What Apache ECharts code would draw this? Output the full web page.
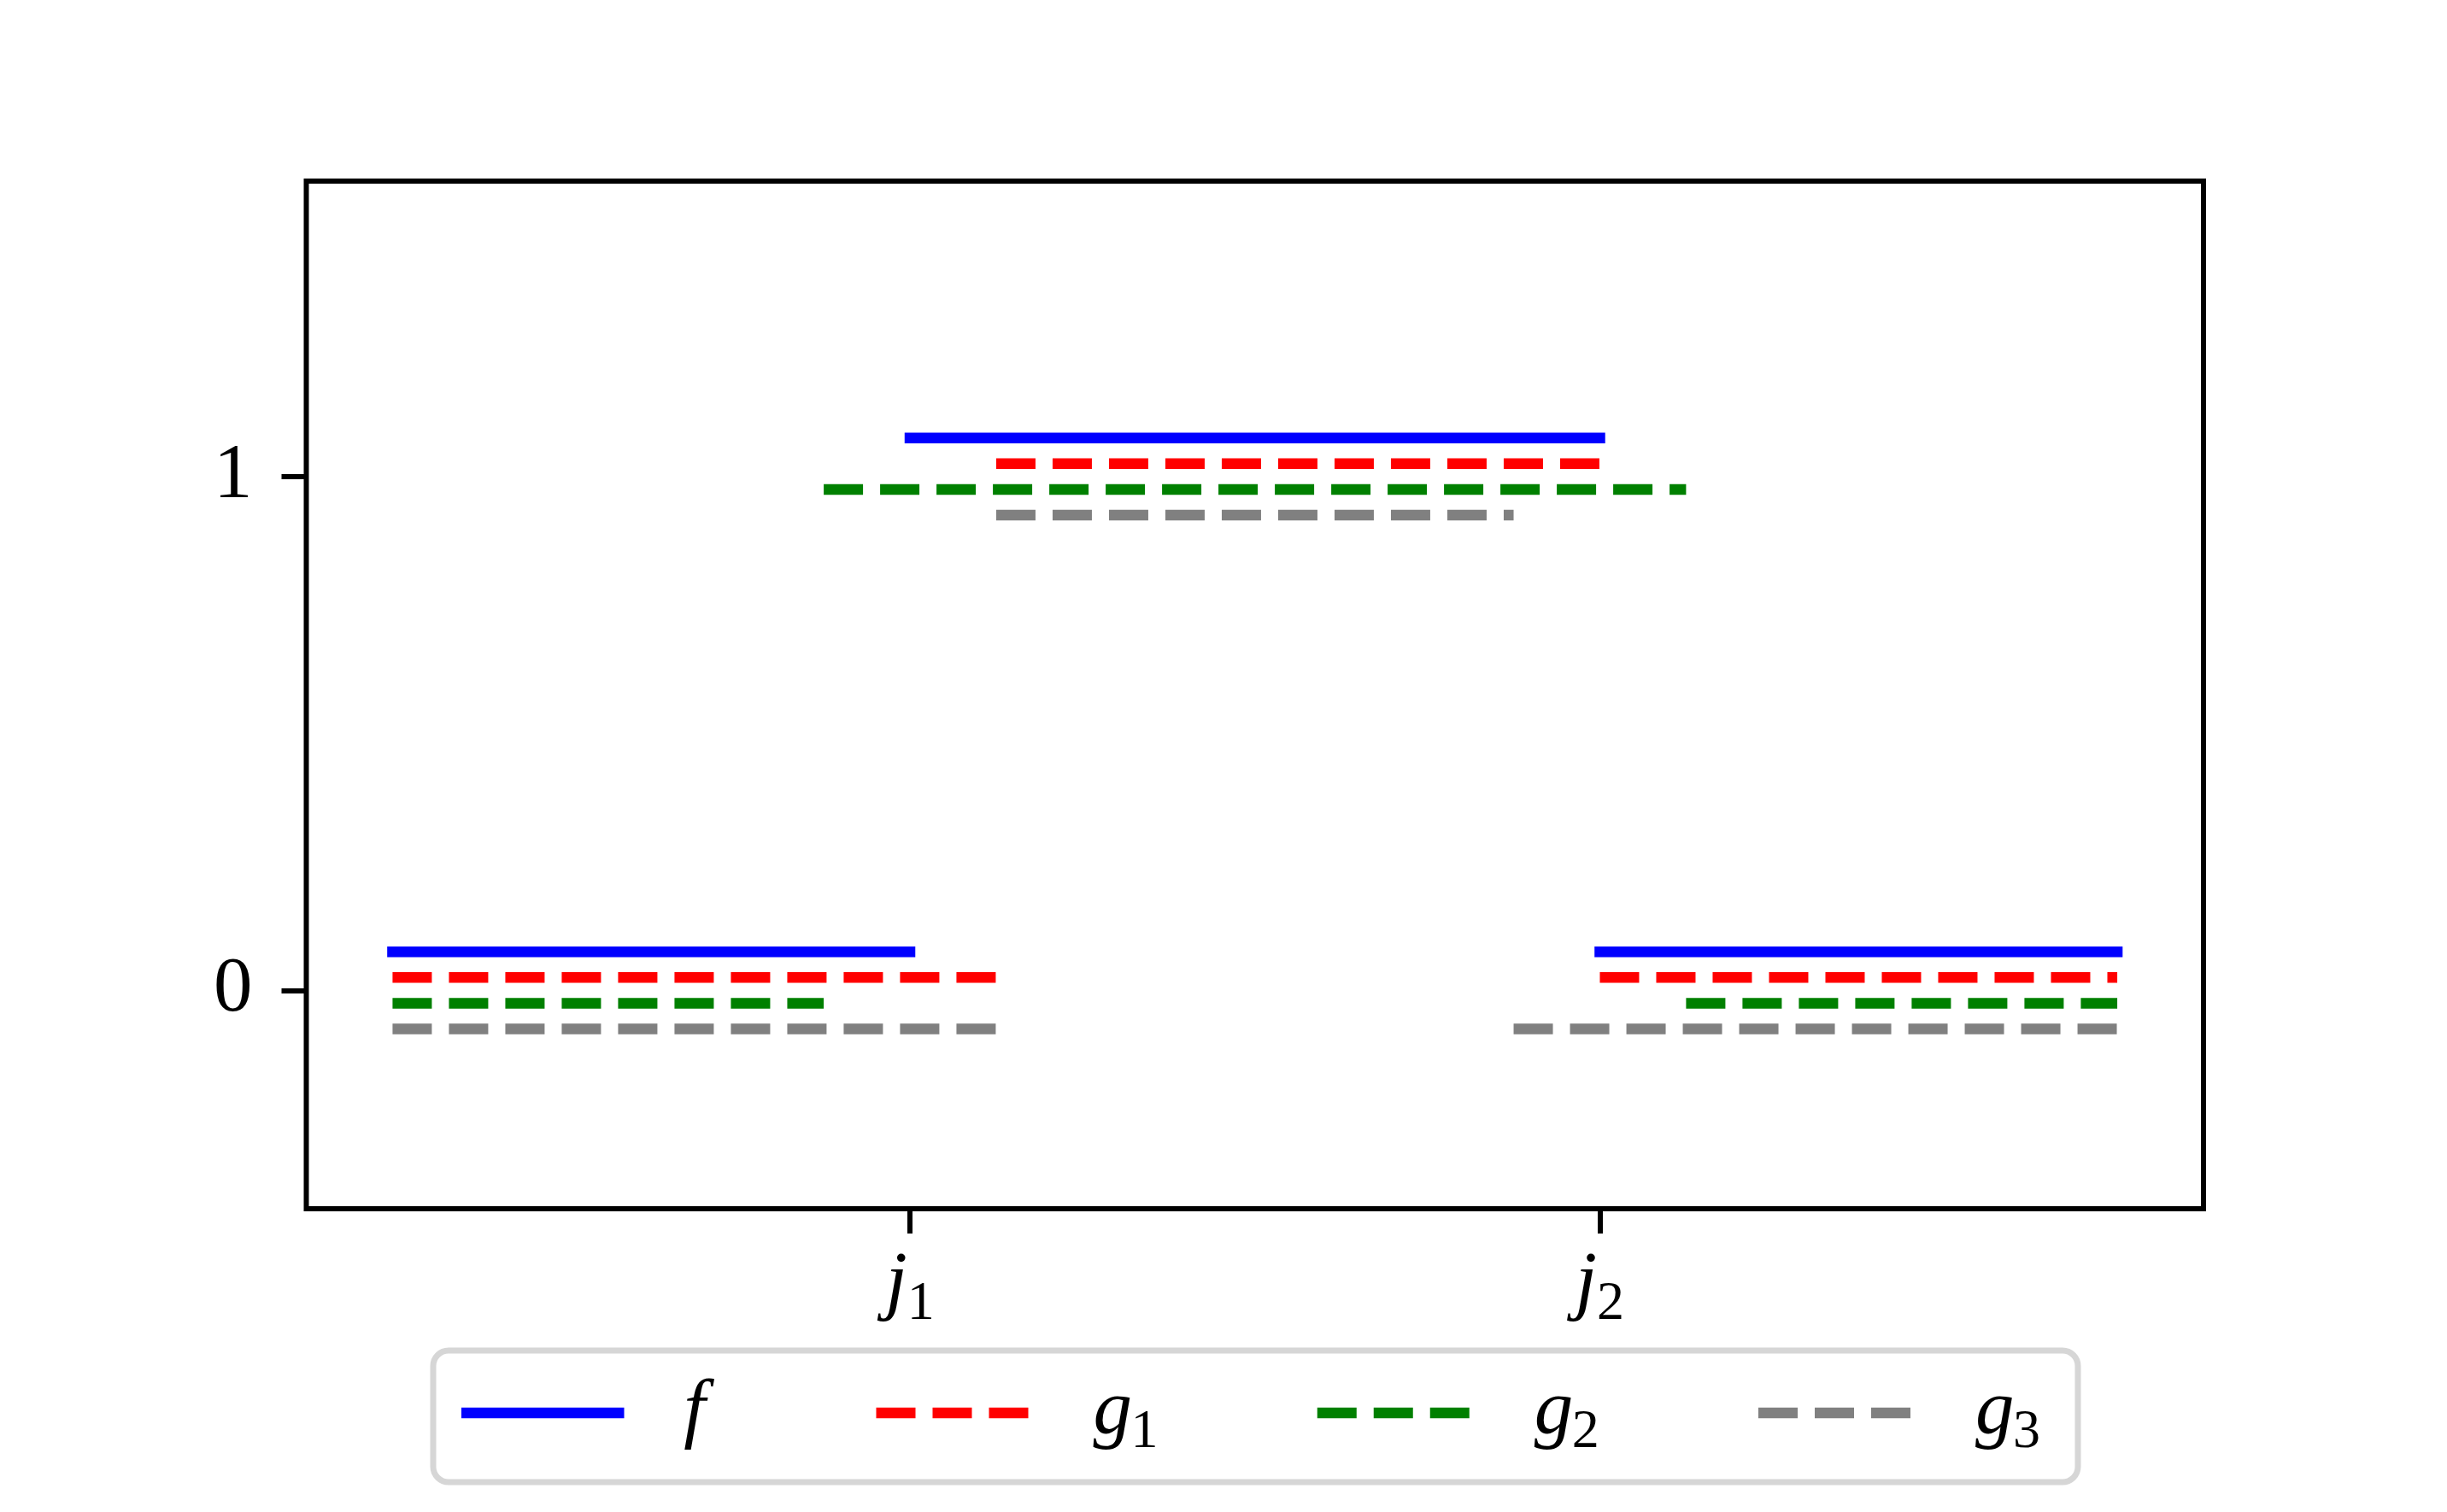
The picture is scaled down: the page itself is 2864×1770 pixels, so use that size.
<!DOCTYPE html>
<html>
<head>
<meta charset="utf-8">
<script src="https://cdn.jsdelivr.net/npm/echarts@6/dist/echarts.min.js"></script>
<style>
html, body { margin: 0; padding: 0; background: #ffffff; }
#chart { width: 2864px; height: 1770px; }
</style>
</head>
<body>
<div id="chart"></div>
<script>
// ---- data ----
const seriesNames = ['f', 'g1', 'g2', 'g3'];
const seriesColors = ['#0000ff', '#ff0000', '#008000', '#808080'];
const seriesDashed = [false, true, true, true];
// each segment: [xStart, xEnd, y]
const fSegments  = [[-0.75, 0, 0.075], [0, 1, 1.075], [1, 1.75, 0.075]];
const g1Segments = [[-0.75, 0.125, 0.025], [0.125, 1, 1.025], [1, 1.75, 0.025]];
const g2Segments = [[-0.75, -0.125, -0.025], [-0.125, 1.125, 0.975], [1.125, 1.75, -0.025]];
const g3Segments = [[-0.75, 0.125, -0.075], [0.125, 0.875, 0.925], [0.875, 1.75, -0.075]];
const allSegments = [fSegments, g1Segments, g2Segments, g3Segments];
const xTickValues = [0, 1];
const xTickMain = ['j', 'j'];
const xTickSub = ['1', '2'];
const yTickValues = [0, 1];
const yTickLabels = ['0', '1'];
const xLimits = [-0.875, 1.875];
const yLimits = [-0.425, 1.575];
const legendMain = ['f', 'g', 'g', 'g'];
const legendSub = ['', '1', '2', '3'];

// ---- styles ----
const FONT = "'Liberation Serif', 'DejaVu Serif', serif";
const LW = 12.5;
const DASH = [46, 20];
const SUBPAD = 46;

const richText = {
  m: { fontFamily: FONT, fontStyle: 'italic', fontSize: 91, lineHeight: 100, color: '#000' },
  s: { fontFamily: FONT, fontSize: 64, lineHeight: 100 - SUBPAD, padding: [SUBPAD, 0, 0, 0], color: '#000' },
  sp: { width: 71, lineHeight: 100 },
  mf: { fontFamily: FONT, fontStyle: 'italic', fontSize: 91, lineHeight: 100, width: 39, color: '#000' },
  mg: { fontFamily: FONT, fontStyle: 'italic', fontSize: 91, lineHeight: 100, width: 44, color: '#000' }
};

const series = [];
allSegments.forEach(function (segs, i) {
  segs.forEach(function (seg) {
    series.push({
      type: 'line',
      name: seriesNames[i],
      data: [[seg[0], seg[2]], [seg[1], seg[2]]],
      symbol: 'none',
      showSymbol: false,
      animation: false,
      silent: true,
      lineStyle: {
        color: seriesColors[i],
        width: LW,
        type: seriesDashed[i] ? DASH : 'solid',
        cap: seriesDashed[i] ? 'butt' : 'square'
      },
      itemStyle: { color: seriesColors[i] },
      z: 3
    });
  });
});

const chart = echarts.init(document.getElementById('chart'), null, { renderer: 'canvas' });
chart.setOption({
  backgroundColor: '#ffffff',
  animation: false,
  grid: {
    show: true,
    left: 358.5, top: 212, width: 2220.5, height: 1203,
    borderColor: '#000000', borderWidth: 6,
    backgroundColor: 'transparent',
    containLabel: false
  },
  xAxis: {
    type: 'value',
    position: 'bottom',
    min: xLimits[0], max: xLimits[1],
    splitLine: { show: false },
    axisLine: { show: false, onZero: false },
    axisTick: { show: true, customValues: xTickValues, length: 29, inside: false,
      lineStyle: { color: '#000', width: 6 } },
    axisLabel: {
      show: true, customValues: xTickValues, margin: 39,
      formatter: function (v) {
        const k = xTickValues.indexOf(v);
        return k < 0 ? '' : '{m|' + xTickMain[k] + '}{s|' + xTickSub[k] + '}';
      },
      rich: richText
    }
  },
  yAxis: {
    type: 'value',
    position: 'left',
    min: yLimits[0], max: yLimits[1],
    splitLine: { show: false },
    axisLine: { show: false, onZero: false },
    axisTick: { show: true, customValues: yTickValues, length: 29, inside: false,
      lineStyle: { color: '#000', width: 6 } },
    axisLabel: {
      show: true, customValues: yTickValues, margin: 63,
      fontFamily: FONT, fontSize: 91, color: '#000',
      formatter: function (v) {
        const k = yTickValues.indexOf(v);
        return k < 0 ? '' : yTickLabels[k];
      }
    }
  },
  legend: {
    show: true,
    data: seriesNames,
    orient: 'horizontal',
    left: 507, top: 1581,
    padding: [18, 44, 26, 33],
    itemGap: 180,
    itemWidth: 178,
    itemHeight: 13,
    backgroundColor: '#ffffff',
    borderColor: '#d6d6d6',
    borderWidth: 7,
    borderRadius: 18,
    selectedMode: false,
    lineStyle: { width: 'inherit', type: 'inherit', cap: 'inherit' },
    formatter: function (name) {
      const k = seriesNames.indexOf(name);
      if (legendSub[k] === '') return '{sp| }{mf|' + legendMain[k] + '}';
      return '{sp| }{mg|' + legendMain[k] + '}{s|' + legendSub[k] + '}';
    },
    textStyle: { rich: richText, color: '#000' }
  },
  series: series
});
</script>
</body>
</html>
